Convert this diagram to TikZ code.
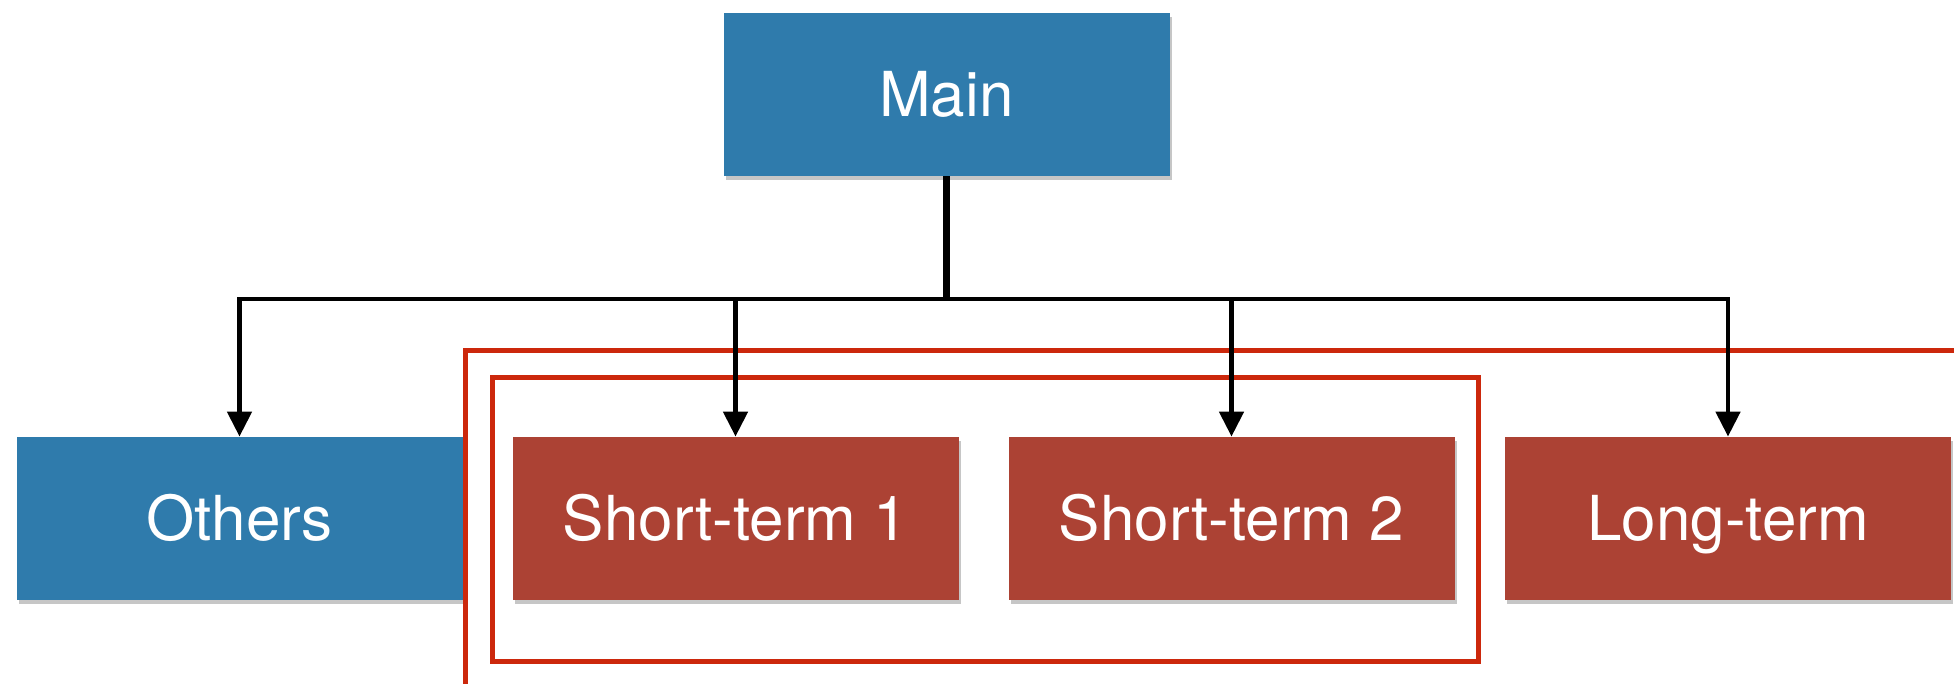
\documentclass[tikz,border=0pt]{standalone}
\usepackage{fontspec}
\setmainfont{TeX Gyre Heros}
\usetikzlibrary{arrows.meta,shadows}
\definecolor{boxblue}{RGB}{47,123,172}
\definecolor{boxred}{RGB}{172,66,52}
\definecolor{framered}{RGB}{204,40,12}
\tikzset{
  card/.style={rectangle, inner sep=0pt, minimum width=223pt, minimum height=81.5pt,
    text=white, font=\fontsize{31}{36}\selectfont, text height=22.3pt, text depth=-2pt,
    drop shadow={shadow xshift=1pt, shadow yshift=-2pt, opacity=0.45}},
  bluecard/.style={card, fill=boxblue},
  redcard/.style={card, fill=boxred},
  stem/.style={line width=3.6pt, black},
  feeder/.style={line width=2.4pt, black, -{Triangle[width=12pt,length=12.5pt]}},
  frame/.style={line width=2.5pt, framered}
}
\begin{document}
\begin{tikzpicture}[x=0.5pt,y=-0.5pt]
  \useasboundingbox (0,0) rectangle (1954,684);
  \clip (0,0) rectangle (1954,684);

  % boxes
  \node[bluecard] (main)   at (946.5,94.5) {Main};
  \node[bluecard] (others) at (239.5,518.5) {Others};
  \node[redcard]  (st1)    at (735.5,518.5) {Short-term 1};
  \node[redcard]  (st2)    at (1231.5,518.5) {Short-term 2};
  \node[redcard]  (long)   at (1728,518.5) {Long-term};

  % red grouping frames
  \draw[frame] (1975,350) -- (465,350) -- (465,705);
  \draw[frame] (492,377) rectangle (1478,661);

  % tree connectors
  \coordinate (bus) at (946.5,299);
  \draw[stem] (main.south) -- (bus);
  \foreach \n in {others,st1,st2,long}
    \draw[feeder] (bus) -| (\n.north);
\end{tikzpicture}
\end{document}
